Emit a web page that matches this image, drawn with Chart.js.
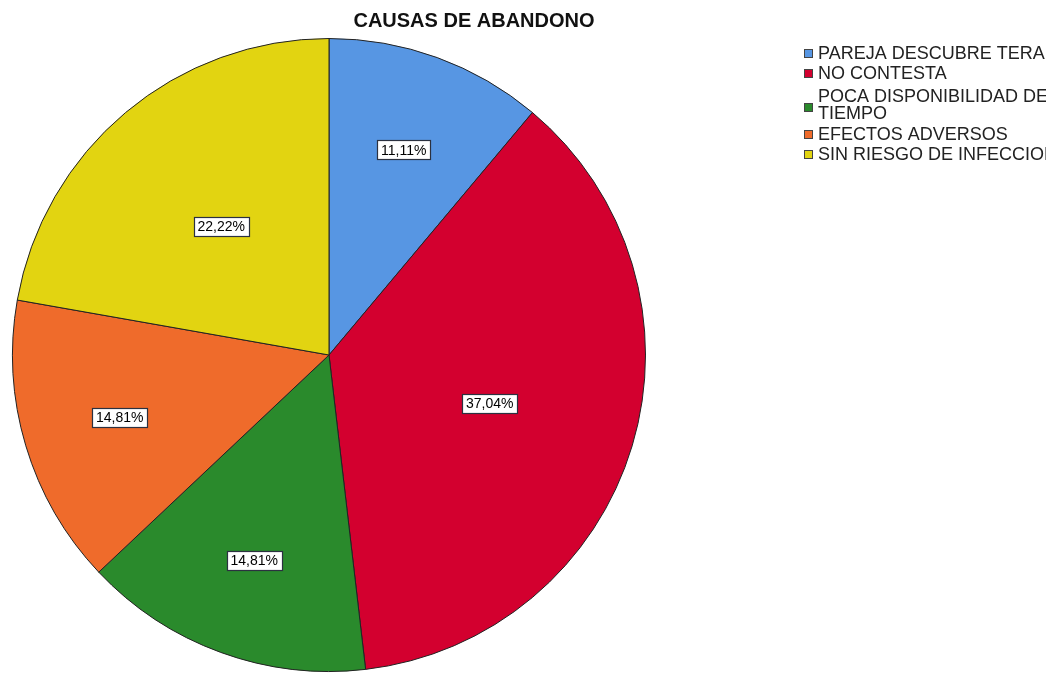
<!DOCTYPE html>
<html>
<head>
<meta charset="utf-8">
<script src="https://cdn.jsdelivr.net/npm/chart.js@4"></script>
<style>
  html, body { margin: 0; padding: 0; background: #fff; }
  #wrap { width: 1046px; height: 675px; position: relative; }
</style>
</head>
<body>
<div id="wrap"><canvas id="pieChart" width="1046" height="675"></canvas></div>
<script>
const titleText = 'CAUSAS DE ABANDONO';
const categories = ['PAREJA DESCUBRE TERAPIA', 'NO CONTESTA', 'POCA DISPONIBILIDAD DE TIEMPO', 'EFECTOS ADVERSOS', 'SIN RIESGO DE INFECCION'];
const legendLines = [['PAREJA DESCUBRE TERAPIA'], ['NO CONTESTA'], ['POCA DISPONIBILIDAD DE', 'TIEMPO'], ['EFECTOS ADVERSOS'], ['SIN RIESGO DE INFECCION']];
const percents = [11.11, 37.04, 14.81, 14.81, 22.22];
const colors = ['#5796e3', '#d3002f', '#2a8a2c', '#ef6b2b', '#e2d411'];

document.addEventListener("DOMContentLoaded", () => {
    const ctx = document.getElementById('pieChart');

    // percentage boxes on each slice
    const sliceLabels = {
        id: 'sliceLabels',
        afterDatasetsDraw(chart) {
            const c = chart.ctx;
            const meta = chart.getDatasetMeta(0);
            c.save();
            c.font = '14px Arial, "Liberation Sans", sans-serif';
            c.textAlign = 'center';
            c.textBaseline = 'middle';
            meta.data.forEach((arc, i) => {
                const mid = (arc.startAngle + arc.endAngle) / 2;
                const f = percents[i] > 20 ? 0.53 : 0.69;
                const x = arc.x + Math.cos(mid) * arc.outerRadius * f;
                const y = arc.y + Math.sin(mid) * arc.outerRadius * f;
                const txt = percents[i].toFixed(2).replace('.', ',') + '%';
                const w = Math.round(c.measureText(txt).width + 8);
                const h = 19;
                const bx = Math.round(x - w / 2) + 0.5;
                const by = Math.round(y - h / 2) + 0.5;
                c.fillStyle = '#fff';
                c.fillRect(bx, by, w, h);
                c.strokeStyle = '#2b3140';
                c.lineWidth = 1.2;
                c.strokeRect(bx, by, w, h);
                c.fillStyle = '#000';
                c.fillText(txt, x, y + 1);
            });
            c.restore();
        }
    };

    // title and legend drawn at the reference spots
    const titleAndLegend = {
        id: 'titleAndLegend',
        afterDraw(chart) {
            const c = chart.ctx;
            c.save();
            c.fillStyle = '#111';
            c.font = 'bold 20px Arial, "Liberation Sans", sans-serif';
            c.textAlign = 'center';
            c.textBaseline = 'middle';
            c.fillText(titleText, 474, 21);

            c.font = '18px Arial, "Liberation Sans", sans-serif';
            c.textAlign = 'left';
            let y = 53;
            legendLines.forEach((lines, i) => {
                if (lines.length > 1) y += 3;
                const boxY = lines.length === 1 ? y : y + 11;
                c.fillStyle = colors[i];
                c.fillRect(804, boxY - 4, 9, 9);
                c.strokeStyle = '#444';
                c.lineWidth = 1;
                c.strokeRect(804.5, boxY - 3.5, 8, 8);
                c.fillStyle = '#222';
                lines.forEach((t, k) => c.fillText(t, 818, y + k * 17 + 1));
                y += lines.length === 1 ? 20 : 38;
            });
            c.restore();
        }
    };

    new Chart(ctx, {
        type: 'pie',
        data: {
            labels: categories,
            datasets: [{
                data: percents,
                backgroundColor: colors,
                borderColor: '#222',
                borderWidth: 1
            }]
        },
        options: {
            responsive: false,
            animation: false,
            layout: {
                padding: { left: 12, right: 400, top: 38, bottom: 3 }
            },
            plugins: {
                legend: { display: false },
                title: { display: false },
                tooltip: { enabled: false }
            }
        },
        plugins: [sliceLabels, titleAndLegend]
    });
});
</script>
</body>
</html>
